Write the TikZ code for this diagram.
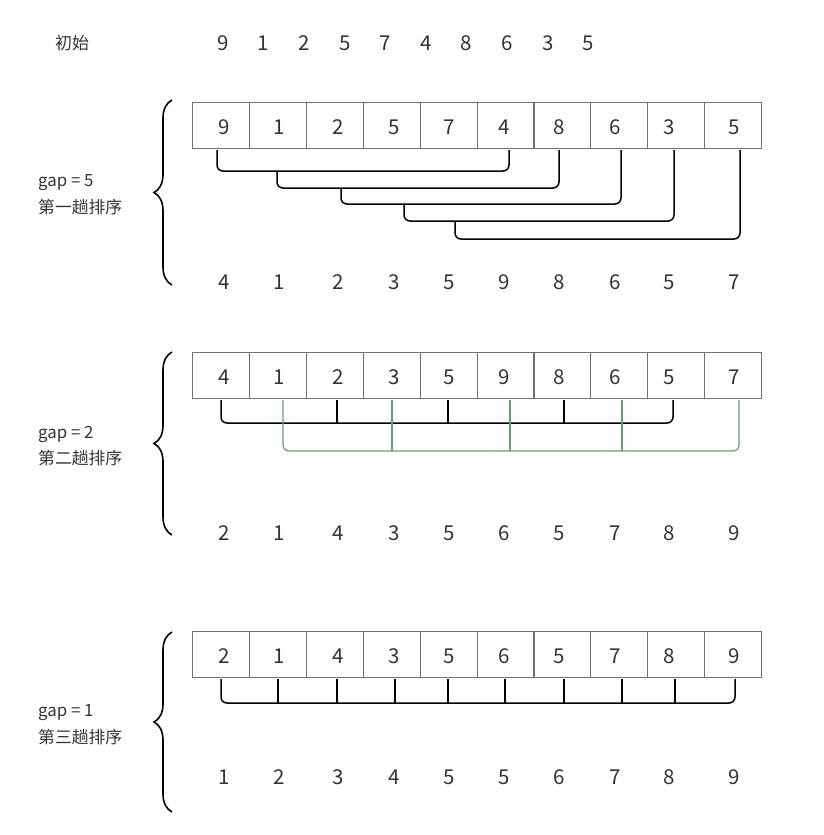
\documentclass[tikz,border=0pt]{standalone}
\usepackage{fontspec}
\newfontfamily\cjk{Noto Sans CJK SC}
\usetikzlibrary{decorations.pathreplacing}
\definecolor{boxline}{HTML}{707070}
\definecolor{grn}{HTML}{5FA36E}
\definecolor{txt}{HTML}{333333}
\tikzset{
 cell/.style={draw=boxline, line width=0.9pt, minimum width=57pt, minimum height=46pt, inner sep=0pt, anchor=north west},
 num/.style={font=\cjk\fontsize{20.5}{20.5}\selectfont, text=txt, inner sep=0pt},
 lbl/.style={font=\cjk\fontsize{16.8}{16.8}\selectfont, text=txt, anchor=west, inner sep=0pt},
 hdr/.style={font=\cjk\fontsize{17}{17}\selectfont, text=txt, inner sep=0pt},
 brk/.style={line width=1.5pt, rounded corners=6pt},
 gbrk/.style={draw=grn, line width=1.2pt, rounded corners=6pt},
 tickline/.style={line width=1.5pt},
 gtick/.style={draw=grn, line width=1.2pt},
 curly/.style={decorate, decoration={brace, amplitude=18pt}, line width=1.6pt},
}
\begin{document}
\begin{tikzpicture}[x=1pt,y=-1pt]
\useasboundingbox (0,0) rectangle (823,835);
% header
\node[hdr] (init) at (72,43) {初始};
\foreach \v [count=\i] in {9,1,2,5,7,4,8,6,3,5}{
  \node[num] (t-\i) at ({223+40.6*(\i-1)},43) {\v};
}
% cells
\foreach \r/\yt in {1/102,2/352,3/631}{
  \foreach \i in {1,...,10}{
    \node[cell] (c\r-\i) at ({192+56.9*(\i-1)},\yt) {};
  }
}
% digits in cells and results
\def\xs{{224,279,338,394,449,504,559,615,669,734}}
\foreach \v [count=\i] in {9,1,2,5,7,4,8,6,3,5}{
  \pgfmathsetmacro\xx{\xs[\i-1]}
  \node[num] (d1-\i) at (\xx,127) {\v};
}
\foreach \v [count=\i] in {4,1,2,3,5,9,8,6,5,7}{
  \pgfmathsetmacro\xx{\xs[\i-1]}
  \node[num] (r1-\i) at (\xx,282) {\v};
  \node[num] (d2-\i) at (\xx,377) {\v};
}
\foreach \v [count=\i] in {2,1,4,3,5,6,5,7,8,9}{
  \pgfmathsetmacro\xx{\xs[\i-1]}
  \node[num] (r2-\i) at (\xx,533) {\v};
  \node[num] (d3-\i) at (\xx,656) {\v};
}
\foreach \v [count=\i] in {1,2,3,4,5,5,6,7,8,9}{
  \pgfmathsetmacro\xx{\xs[\i-1]}
  \node[num] (r3-\i) at (\xx,777) {\v};
}
% labels
\node[lbl] (g1) at (38,183) {gap = 5};
\node[lbl] (p1) at (38,207) {第一趟排序};
\node[lbl] (g2) at (38,434) {gap = 2};
\node[lbl] (p2) at (38,458) {第二趟排序};
\node[lbl] (g3) at (38,713) {gap = 1};
\node[lbl] (p3) at (38,737) {第三趟排序};
% braces
\coordinate (b1t) at (172,100); \coordinate (b1b) at (172,285);
\coordinate (b2t) at (172,352); \coordinate (b2b) at (172,535);
\coordinate (b3t) at (172,632); \coordinate (b3b) at (172,812);
\draw[curly] (b1b) -- (b1t);
\draw[curly] (b2b) -- (b2t);
\draw[curly] (b3b) -- (b3t);
% pass 1 brackets (left legs start at the bracket above)
\foreach \a/\b/\y/\ys in {217/509/171/150, 277/559/188/171, 341/621/204/188, 404/674/221/204, 455/740/239/221}{
  \coordinate (s) at (\a,\ys); \coordinate (e) at (\b,150);
  \draw[brk] (s) -- (\a,\y) -- (\b,\y) -- (e);
}
% pass 2 brackets
\coordinate (k1s) at (221,400); \coordinate (k1e) at (673,400);
\draw[brk] (k1s) -- (221,423) -- (673,423) -- (k1e);
\foreach \x in {337,448,564}{ \draw[tickline] (\x,400) -- (\x,423); }
\coordinate (k2s) at (283,400); \coordinate (k2e) at (739,400);
\draw[gbrk] (k2s) -- (283,451) -- (739,451) -- (k2e);
\foreach \x in {392,510,622}{ \draw[gtick] (\x,400) -- (\x,451); }
% pass 3 brackets
\coordinate (m1s) at (221,679); \coordinate (m1e) at (735,679);
\draw[brk] (m1s) -- (221,703) -- (735,703) -- (m1e);
\foreach \x in {278,337,395,448,505,564,622,675}{ \draw[tickline] (\x,679) -- (\x,703); }
\end{tikzpicture}
\end{document}
